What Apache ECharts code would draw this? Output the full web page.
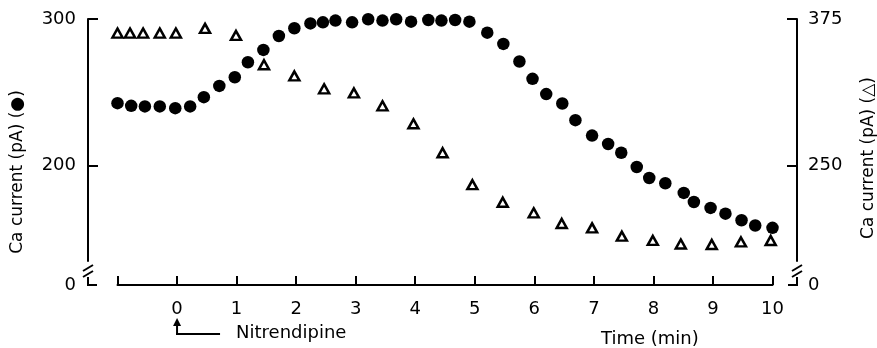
<!DOCTYPE html>
<html>
<head>
<meta charset="utf-8">
<script src="https://cdn.jsdelivr.net/npm/echarts@6/dist/echarts.min.js"></script>
<style>
  html, body { margin: 0; padding: 0; background: #fff; }
  #chart { width: 877px; height: 348px; }
</style>
</head>
<body>
<div id="chart"></div>
<script>
// Time axis (min): ticks from -1 to 10, labels from 0
const timeTicks = [-1, 0, 1, 2, 3, 4, 5, 6, 7, 8, 9, 10];
const timeLabels = [0, 1, 2, 3, 4, 5, 6, 7, 8, 9, 10];

// Filled circles: Ca current (pA), left scale
const dotTimes = [
  -1.0, -0.77, -0.54, -0.29, -0.03, 0.22, 0.45, 0.71, 0.97, 1.19, 1.45, 1.71,
  1.97, 2.24, 2.45, 2.66, 2.94, 3.21, 3.45, 3.68, 3.93, 4.22, 4.44, 4.67, 4.91,
  5.21, 5.48, 5.75, 5.97, 6.20, 6.47, 6.69, 6.97, 7.24, 7.46, 7.72, 7.93, 8.20,
  8.51, 8.68, 8.96, 9.21, 9.48, 9.71, 10.0
];
const dotCurrent = [
  242.6, 240.8, 240.4, 240.4, 239.2, 240.4, 246.7, 254.4, 260.3, 270.5, 278.9, 288.4,
  293.7, 297.0, 297.7, 298.9, 297.7, 299.8, 298.9, 299.8, 298.2, 299.3, 298.9, 299.3, 298.2,
  290.7, 283.0, 271.0, 259.2, 248.8, 242.4, 231.0, 220.5, 214.8, 208.8, 199.1, 191.6, 188.0,
  181.4, 175.2, 171.2, 167.3, 162.8, 159.2, 157.6
];

// Open triangles: Ca current (pA), right scale
const triTimes = [
  -1.0, -0.79, -0.57, -0.29, -0.02, 0.47, 0.99, 1.46, 1.97, 2.47, 2.97, 3.45,
  3.97, 4.46, 4.96, 5.47, 5.99, 6.46, 6.97, 7.47, 7.99, 8.46, 8.98, 9.47, 9.97
];
const triCurrent = [
  363, 363, 363, 363, 363, 367, 361, 336, 326.5, 315.5, 312, 301,
  285.7, 261, 233.8, 218.8, 209.8, 200.7, 197, 189.9, 186.3, 183.2, 182.8, 185, 186.2
];

// Left and right scale ticks
const leftTicks = [200, 300];
const rightTicks = [250, 375];

const INK = '#000';
const FONT = 'DejaVu Sans';
const FS = 18;

const G = { left: 117.5, right: 104.5, top: 19, height: 242 };
const LEFT_OFFSET = 29.5;
const RIGHT_OFFSET = 24.5;
const X_OFFSET = 24;

const chart = echarts.init(document.getElementById('chart'), null, { renderer: 'canvas' });

const axisText = { color: INK, fontFamily: FONT, fontSize: FS };

chart.setOption({
  animation: false,
  backgroundColor: '#fff',
  grid: { left: G.left, right: G.right, top: G.top, height: G.height },
  xAxis: {
    type: 'value', min: -1, max: 10, offset: X_OFFSET,
    splitLine: { show: false },
    axisLine: { show: true, onZero: false, lineStyle: { color: INK, width: 2 } },
    axisTick: { show: true, inside: true, length: 9, lineStyle: { color: INK, width: 2 }, customValues: timeTicks },
    axisLabel: Object.assign({ margin: 15, customValues: timeLabels }, axisText)
  },
  yAxis: [
    {
      type: 'value', min: 135, max: 300, position: 'left', offset: LEFT_OFFSET,
      splitLine: { show: false },
      axisLine: { show: true, onZero: false, lineStyle: { color: INK, width: 2 } },
      axisTick: { show: true, inside: true, length: 10, lineStyle: { color: INK, width: 2 }, customValues: leftTicks },
      axisLabel: Object.assign({ margin: 12, customValues: leftTicks }, axisText)
    },
    {
      type: 'value', min: 168.75, max: 375, position: 'right', offset: RIGHT_OFFSET,
      splitLine: { show: false },
      axisLine: { show: true, onZero: false, lineStyle: { color: INK, width: 2 } },
      axisTick: { show: true, inside: true, length: 10, lineStyle: { color: INK, width: 2 }, customValues: rightTicks },
      axisLabel: Object.assign({ margin: 11, customValues: rightTicks }, axisText)
    }
  ],
  series: [
    {
      name: 'dots', type: 'scatter', xAxisIndex: 0, yAxisIndex: 0, clip: false,
      symbol: 'circle', symbolSize: 12.5,
      itemStyle: { color: INK, opacity: 1 },
      data: dotTimes.map((t, i) => [t, dotCurrent[i]])
    },
    {
      name: 'triangles', type: 'scatter', xAxisIndex: 0, yAxisIndex: 1, clip: false,
      symbol: 'triangle', symbolSize: [10, 9],
      itemStyle: { color: '#fff', borderColor: INK, borderWidth: 2.5, opacity: 1 },
      data: triTimes.map((t, i) => [t, triCurrent[i]])
    }
  ]
});

// Axis breaks, zero stubs, axis titles and the drug-application marker
const axL = G.left - LEFT_OFFSET;
const axR = 877 - G.right + RIGHT_OFFSET;
const yEnd = G.top + G.height;
const yBase = yEnd + X_OFFSET;
const x0 = chart.convertToPixel({ xAxisIndex: 0 }, 0);
const xTimeName = chart.convertToPixel({ xAxisIndex: 0 }, 7.12);

const lineStyle = { stroke: INK, lineWidth: 2 };
const font = (size) => size + 'px "' + FONT + '"';
function seg(x1, y1, x2, y2) {
  return { type: 'line', silent: true, shape: { x1, y1, x2, y2 }, style: lineStyle };
}
function breakMarks(ax) {
  return [
    seg(ax - 5, yEnd + 10, ax + 5, yEnd + 4),
    seg(ax - 5, yEnd + 16, ax + 5, yEnd + 10)
  ];
}
function label(x, y, text, align, size) {
  return { type: 'text', silent: true,
    style: { x, y, text, align, verticalAlign: 'middle', fill: INK, font: font(size || FS) } };
}
function vLabel(x, y, text) {
  return { type: 'text', silent: true, x, y, rotation: Math.PI / 2,
    style: { x: 0, y: 0, text, align: 'center', verticalAlign: 'middle', fill: INK, font: font(17) } };
}

const elements = [].concat(
  breakMarks(axL),
  breakMarks(axR),
  [
    // zero stubs
    seg(axL, yBase - 8, axL, yBase + 1),
    seg(axL - 1, yBase, axL + 9, yBase),
    seg(axR, yBase - 8, axR, yBase + 1),
    seg(axR + 1, yBase, axR - 9, yBase),
    label(axL - 12, yBase, '0', 'right'),
    label(axR + 11, yBase, '0', 'left'),
    // axis titles
    vLabel(18, 172, 'Ca current (pA) (●)'),
    vLabel(869, 158, 'Ca current (pA) (△)'),
    label(xTimeName, 339, 'Time (min)', 'left'),
    // Nitrendipine application at t = 0
    { type: 'polygon', silent: true,
      shape: { points: [[x0, yBase + 33], [x0 - 4, yBase + 41], [x0 + 4, yBase + 41]] },
      style: { fill: INK } },
    seg(x0, yBase + 40, x0, yBase + 50),
    seg(x0 - 1, yBase + 49, x0 + 43, yBase + 49),
    label(x0 + 59, yBase + 48, 'Nitrendipine', 'left')
  ]
);

chart.setOption({ graphic: { elements } });
</script>
</body>
</html>
